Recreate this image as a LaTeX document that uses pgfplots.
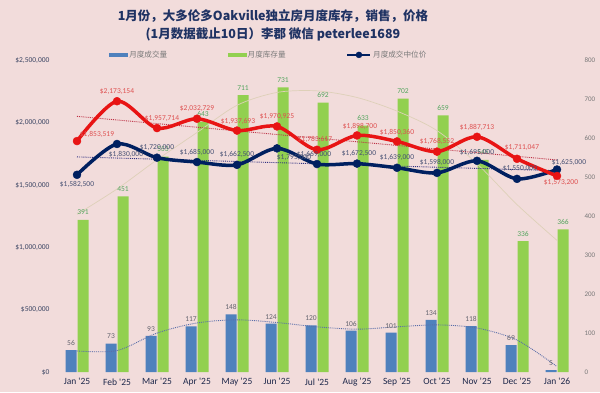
\documentclass[border=0pt]{standalone}
\usepackage{pgfplots}
\pgfplotsset{compat=1.18}
\usepackage{pgfplotstable}
\usepackage{fontspec}
\setmainfont{Carlito}
\newfontfamily\cjk{Noto Sans CJK SC}

\definecolor{bgpink}{RGB}{242,220,219}
\definecolor{barblue}{RGB}{79,129,189}
\definecolor{bargreen}{RGB}{146,208,80}
\definecolor{linered}{RGB}{232,20,20}
\definecolor{navyline}{RGB}{0,32,96}
\definecolor{redlabel}{RGB}{222,80,80}
\definecolor{navylabel}{RGB}{70,80,115}
\definecolor{greenlabel}{RGB}{85,165,95}
\definecolor{salesgray}{RGB}{100,100,110}
\definecolor{lefttick}{RGB}{60,70,100}
\definecolor{righttick}{RGB}{120,120,120}
\definecolor{xnavy}{RGB}{30,40,75}
\definecolor{legendgray}{RGB}{120,120,120}
\definecolor{titlenavy}{RGB}{31,50,99}
\definecolor{redtrend}{RGB}{190,50,70}
\definecolor{navytrend}{RGB}{50,50,130}
\definecolor{salestrend}{RGB}{90,110,170}
\definecolor{invtrend}{RGB}{222,208,184}

\pgfplotstableread{
i sales inv median avg rdx rdy ndx ndy
0 56 391 1582500 1853519 20 7 0 -10
1 73 451 1830000 2173154 0 10 9 -10
2 93 553 1720000 1957714 5 10 0 10
3 117 643 1685000 2032729 0 10 0 10
4 148 711 1662500 1937693 1 9 0 10
5 124 731 1795000 1970925 0 10 17 -9
6 120 692 1669000 1783617 -2 10 -3 10
7 106 633 1672500 1898700 3 9 2 10
8 101 702 1639000 1850360 0 9 0 10
9 134 659 1598000 1768552 0 10 0 10
10 118 545 1695000 1887713 0 9 0 8
11 69 336 1550000 1711047 5 11 3 10
12 5 366 1625000 1573200 4 -7 12 7
}\data

% trend curves (right-axis scale)
\pgfplotstableread{
i st it
0 54 405
1 55 470
2 100 545
3 126 615
4 134 685
5 127 718
6 116 722
7 110 705
8 116 670
9 121 620
10 113 535
11 82 430
12 14 338
}\trend

\pgfplotsset{
  base/.style={
    at={(57pt,20pt)}, anchor=south west, scale only axis,
    width=520pt, height=311.5pt,
    xmin=-0.5, xmax=12.5,
    enlarge x limits=false, enlarge y limits=false,
    axis line style={draw=none}, major tick length=0pt,
    clip=false,
    /pgf/number format/assume math mode=true,
  },
}

\begin{document}
\begin{tikzpicture}
\fill[bgpink] (0,0) rectangle (600pt,392pt);

\node[font=\cjk\bfseries\fontsize{12.5}{15}\selectfont, text=titlenavy] at (273pt,376pt) {1月份，大多伦多Oakville独立房月度库存，销售，价格};
\node[font=\cjk\bfseries\fontsize{12.5}{15}\selectfont, text=titlenavy] at (273pt,358pt) {(1月数据截止10日）李郡 微信 peterlee1689};

% ---- bars (right axis) ----
\begin{axis}[base,
  ymin=0, ymax=800,
  axis y line*=right,
  ytick={0,100,200,300,400,500,600,700,800},
  yticklabel style={font=\fontsize{7}{8}\selectfont, text=righttick, xshift=4pt},
  xtick={0,...,12},
  xticklabels={Jan \textquotesingle25,Feb \textquotesingle25,Mar \textquotesingle25,Apr \textquotesingle25,May \textquotesingle25,Jun \textquotesingle25,Jul \textquotesingle25,Aug \textquotesingle25,Sep \textquotesingle25,Oct \textquotesingle25,Nov \textquotesingle25,Dec \textquotesingle25,Jan \textquotesingle26},
  xticklabel style={font=\fontsize{9.5}{10}\selectfont, text=xnavy, yshift=-3pt},
  ybar, bar width=11pt,
]
\addplot[fill=barblue, draw=none, bar shift=-6pt,
  nodes near coords,
  every node near coord/.append style={font=\fontsize{7.5}{8}\selectfont, text=salesgray, anchor=center, yshift=7pt}]
  table[x=i, y=sales]{\data};
\addplot[fill=bargreen, draw=none, bar shift=6pt,
  nodes near coords,
  every node near coord/.append style={font=\fontsize{7.5}{8}\selectfont, text=greenlabel, anchor=center, yshift=7.5pt}]
  table[x=i, y=inv]{\data};
\addplot[smooth, invtrend, line width=0.7pt, no marks] table[x=i, y=it]{\trend};
\addplot[smooth, salestrend, densely dotted, line width=0.9pt, no marks] table[x=i, y=st]{\trend};
\end{axis}

% ---- prices (left axis) ----
\begin{axis}[base,
  ymin=0, ymax=2500000,
  axis y line*=left,
  ytick={0,500000,1000000,1500000,2000000,2500000},
  yticklabels={{\$0},{\$500,000},{\$1,000,000},{\$1,500,000},{\$2,000,000},{\$2,500,000}},
  scaled y ticks=false,
  yticklabel style={font=\fontsize{7.5}{8}\selectfont, text=lefttick, xshift=-4pt},
  xtick=\empty,
  /pgf/number format/fixed, /pgf/number format/precision=0,
  /pgf/number format/1000 sep={,},
  legend columns=3,
  legend style={draw=none, fill=none, at={(axis description cs:0.407,1.018)}, anchor=center,
    font=\cjk\fontsize{7.6}{8}\selectfont, nodes={text=legendgray, inner sep=1.5pt},
    /tikz/every even column/.append style={column sep=59pt}},
]
\addlegendimage{legend image code/.code={\fill[barblue] (0pt,-1.8pt) rectangle (18pt,1.8pt);}}
\addlegendentry{月度成交量}
\addlegendimage{legend image code/.code={\fill[bargreen] (0pt,-1.8pt) rectangle (18pt,1.8pt);}}
\addlegendentry{月度库存量}
\addlegendimage{legend image code/.code={\draw[navyline, line width=2.5pt] (0pt,0pt) -- (23pt,0pt); \fill[navyline] (11.5pt,0pt) circle (3pt);}}
\addlegendentry{月度成交中位价}

\addplot[forget plot, navytrend, densely dotted, line width=0.9pt, no marks]
  table[x=i, y={create col/linear regression={y=median}}]{\data};
\addplot[forget plot, redtrend, densely dotted, line width=0.9pt, no marks]
  table[x=i, y={create col/linear regression={y=avg}}]{\data};

\addplot[forget plot, navyline, smooth, line width=3.5pt, mark=*, mark size=4pt, mark options={solid, line width=0.4pt}]
  table[x=i, y=median]{\data};
\addplot[forget plot, linered, smooth, line width=3.5pt, mark=*, mark size=4pt, mark options={solid, line width=0.4pt}]
  table[x=i, y=avg]{\data};

% labels
\addplot[forget plot, draw=none, no marks, point meta=y,
  visualization depends on={\thisrow{ndx}\as\ndx},
  visualization depends on={\thisrow{ndy}\as\ndy},
  nodes near coords={\$\pgfmathprintnumber{\pgfplotspointmeta}},
  every node near coord/.append style={font=\fontsize{7.5}{8}\selectfont, text=navylabel, anchor=center, inner sep=0pt, xshift={\ndx*1pt}, yshift={\ndy*1pt}}]
  table[x=i, y=median]{\data};
\addplot[forget plot, draw=none, no marks, point meta=y,
  visualization depends on={\thisrow{rdx}\as\rdx},
  visualization depends on={\thisrow{rdy}\as\rdy},
  nodes near coords={\$\pgfmathprintnumber{\pgfplotspointmeta}},
  every node near coord/.append style={font=\fontsize{7.5}{8}\selectfont, text=redlabel, anchor=center, inner sep=0pt, xshift={\rdx*1pt}, yshift={\rdy*1pt}}]
  table[x=i, y=avg]{\data};
\end{axis}

\pgfresetboundingbox
\useasboundingbox (0,0) rectangle (600pt,392pt);
\end{tikzpicture}
\end{document}
